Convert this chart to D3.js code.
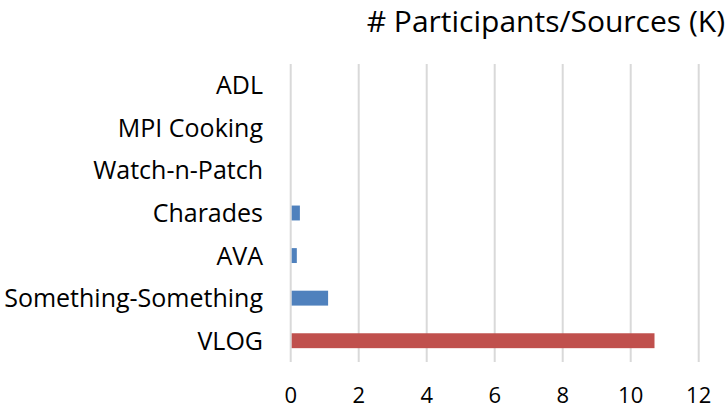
<!DOCTYPE html>
<html>
<head>
<meta charset="utf-8">
<script src="https://cdn.jsdelivr.net/npm/d3@7"></script>
<style>
  body { margin: 0; background: #fff; }
  text { font-family: "Open Sans", Lato, sans-serif; fill: #000; }
</style>
</head>
<body>
<div id="chart"></div>
<script>
// Data (thousands)
const categories = ["ADL", "MPI Cooking", "Watch-n-Patch", "Charades", "AVA", "Something-Something", "VLOG"];
const values = [0.02, 0.012, 0.007, 0.27, 0.18, 1.1, 10.7];
const barColors = ["#4F81BD", "#4F81BD", "#4F81BD", "#4F81BD", "#4F81BD", "#4F81BD", "#C0504D"];
const xTicks = [0, 2, 4, 6, 8, 10, 12];
const title = "# Participants/Sources (K)";

const width = 728, height = 409;

const svg = d3.select("#chart")
    .append("svg")
    .attr("width", width)
    .attr("height", height);

// Scales
const x = d3.scaleLinear()
    .domain([0, 12])
    .range([290.7, 698.7]);

const y = d3.scaleBand()
    .domain(categories)
    .range([64, 362])
    .paddingInner(0.65)
    .paddingOuter(0.325);

// Gridlines
svg.append("g")
    .selectAll("line")
    .data(xTicks)
    .enter()
    .append("line")
    .attr("x1", d => x(d))
    .attr("x2", d => x(d))
    .attr("y1", 64)
    .attr("y2", 362)
    .attr("stroke", "#D9D9D9")
    .attr("stroke-width", 2);

// Bars
svg.append("g")
    .selectAll("rect")
    .data(values)
    .enter()
    .append("rect")
    .attr("x", x(0) + 1)
    .attr("y", (d, i) => y(categories[i]))
    .attr("width", d => Math.max(0, x(d) - x(0) - 1))
    .attr("height", y.bandwidth())
    .attr("fill", (d, i) => barColors[i]);

// Category labels
svg.append("g")
    .selectAll("text")
    .data(categories)
    .enter()
    .append("text")
    .attr("x", 263)
    .attr("y", d => y(d) + y.bandwidth() / 2)
    .attr("dy", "0.36em")
    .attr("text-anchor", "end")
    .style("font-size", "25px")
    .text(d => d);

// X tick labels
svg.append("g")
    .selectAll("text")
    .data(xTicks)
    .enter()
    .append("text")
    .attr("x", d => x(d))
    .attr("y", 403)
    .attr("text-anchor", "middle")
    .style("font-size", "22px")
    .text(d => d);

// Title
svg.append("text")
    .attr("x", 725)
    .attr("y", 32)
    .attr("text-anchor", "end")
    .style("font-size", "30px")
    .text(title);
</script>
</body>
</html>
